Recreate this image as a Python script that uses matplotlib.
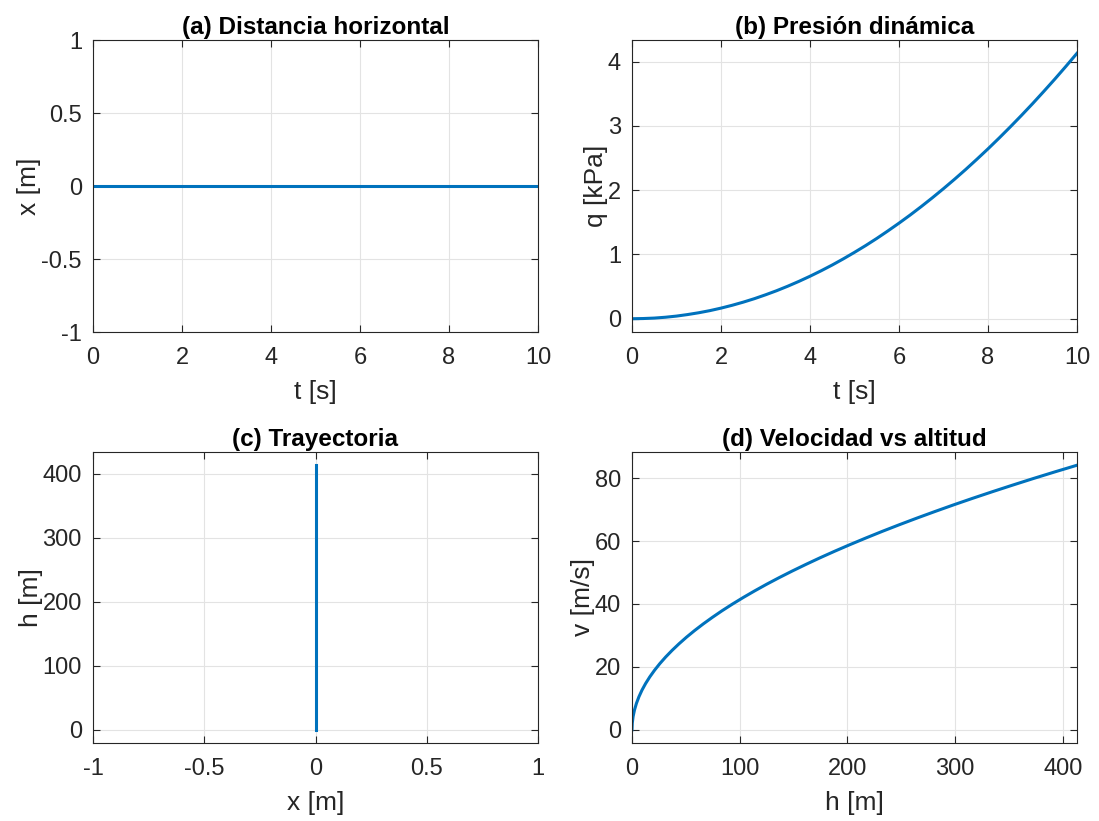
import matplotlib
matplotlib.use('Agg')
import matplotlib.pyplot as plt

plt.rcParams['font.family'] = ['Liberation Sans', 'DejaVu Sans']

# tiempo de vuelo [s], paso de 0.25 s
t = [0.00, 0.25, 0.50, 0.75, 1.00, 1.25, 1.50, 1.75, 2.00, 2.25,
     2.50, 2.75, 3.00, 3.25, 3.50, 3.75, 4.00, 4.25, 4.50, 4.75,
     5.00, 5.25, 5.50, 5.75, 6.00, 6.25, 6.50, 6.75, 7.00, 7.25,
     7.50, 7.75, 8.00, 8.25, 8.50, 8.75, 9.00, 9.25, 9.50, 9.75, 10.00]
# distancia horizontal [m]
x = [0.0] * len(t)
# altitud [m]
h = [0.00, 0.26, 1.03, 2.32, 4.13, 6.45, 9.29, 12.65, 16.52, 20.91,
     25.81, 31.23, 37.17, 43.62, 50.59, 58.08, 66.08, 74.60, 83.63, 93.18,
     103.25, 113.83, 124.93, 136.55, 148.68, 161.33, 174.49, 188.17, 202.37, 217.08,
     232.31, 248.06, 264.32, 281.10, 298.39, 316.20, 334.53, 353.37, 372.73, 392.61, 413.00]
# velocidad [m/s]
v = [0.00, 2.10, 4.21, 6.31, 8.41, 10.51, 12.62, 14.72, 16.82, 18.92,
     21.03, 23.13, 25.23, 27.33, 29.44, 31.54, 33.64, 35.74, 37.85, 39.95,
     42.05, 44.15, 46.26, 48.36, 50.46, 52.56, 54.67, 56.77, 58.87, 60.97,
     63.08, 65.18, 67.28, 69.38, 71.49, 73.59, 75.69, 77.79, 79.90, 82.00, 84.10]
# presion dinamica [kPa]
q = [0.000, 0.003, 0.010, 0.023, 0.041, 0.065, 0.093, 0.126, 0.165, 0.209,
     0.258, 0.312, 0.372, 0.436, 0.506, 0.581, 0.661, 0.746, 0.836, 0.932,
     1.033, 1.138, 1.249, 1.366, 1.487, 1.613, 1.745, 1.882, 2.024, 2.171,
     2.323, 2.481, 2.643, 2.811, 2.984, 3.162, 3.345, 3.534, 3.727, 3.926, 4.130]

azul = '#0072BD'
gris = '#262626'

W, H = 1099, 821
fig = plt.figure(figsize=(W / 100, H / 100), dpi=100)


def ejes(l, r, top, bot):
    ax = fig.add_axes([l / W, 1 - bot / H, (r - l) / W, (bot - top) / H])
    ax.grid(True, color='#e3e3e3', linewidth=0.8)
    ax.set_axisbelow(True)
    ax.tick_params(direction='in', length=5, width=0.8, colors=gris,
                   labelsize=17, top=True, right=True)
    ax.tick_params(axis='x', pad=11)
    ax.tick_params(axis='y', pad=8)
    for s in ax.spines.values():
        s.set_color(gris)
        s.set_linewidth(0.8)
    return ax


def formato(ax, titulo, xl, yl):
    ax.set_title(titulo, fontsize=17.5, fontweight='bold', pad=4)
    ax.set_xlabel(xl, fontsize=19, color=gris, labelpad=8)
    ax.set_ylabel(yl, fontsize=19, color=gris, labelpad=0)


def margen(vals):
    lo, hi = min(vals), max(vals)
    d = 0.05 * (hi - lo)
    return lo - d, hi + d


# (a)
ax1 = ejes(93, 538, 40, 332)
ax1.plot(t, x, color=azul, linewidth=2.2)
ax1.set_xlim(0, 10)
ax1.set_ylim(-1, 1)
ax1.set_yticks([-1, -0.5, 0, 0.5, 1])
ax1.set_yticklabels(['-1', '-0.5', '0', '0.5', '1'])
formato(ax1, '(a) Distancia horizontal', 't [s]', 'x [m]')

# (b)
ax2 = ejes(632, 1077, 40, 332)
ax2.plot(t, q, color=azul, linewidth=2.2)
ax2.set_xlim(0, 10)
ax2.set_ylim(*margen(q))
ax2.set_yticks([0, 1, 2, 3, 4])
formato(ax2, '(b) Presión dinámica', 't [s]', 'q [kPa]')

# (c)
ax3 = ejes(93, 538, 452, 743)
ax3.plot(x, h, color=azul, linewidth=2.2)
ax3.set_xlim(-1, 1)
ax3.set_ylim(*margen(h))
ax3.set_xticks([-1, -0.5, 0, 0.5, 1])
ax3.set_xticklabels(['-1', '-0.5', '0', '0.5', '1'])
ax3.set_yticks([0, 100, 200, 300, 400])
formato(ax3, '(c) Trayectoria', 'x [m]', 'h [m]')

# (d)
ax4 = ejes(632, 1077, 452, 743)
ax4.plot(h, v, color=azul, linewidth=2.2)
ax4.set_xlim(0, max(h))
ax4.set_ylim(*margen(v))
ax4.set_xticks([0, 100, 200, 300, 400])
ax4.set_yticks([0, 20, 40, 60, 80])
formato(ax4, '(d) Velocidad vs altitud', 'h [m]', 'v [m/s]')

fig.savefig('out.png', dpi=100, facecolor='white')
